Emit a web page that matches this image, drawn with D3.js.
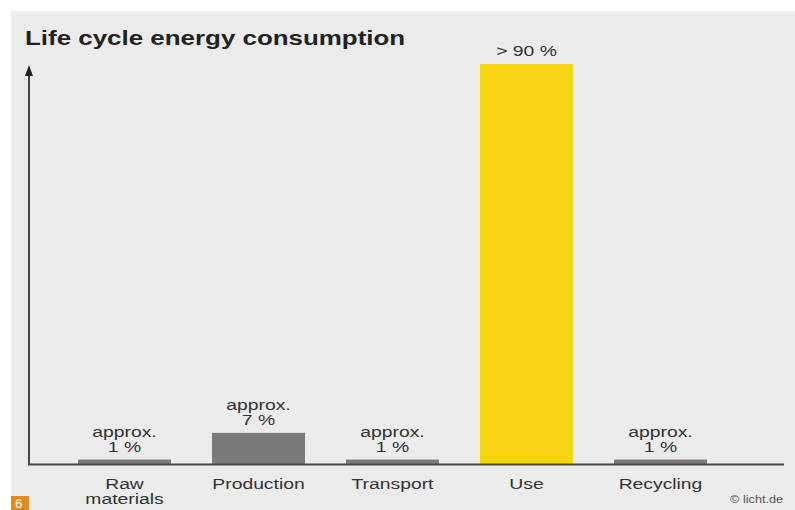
<!DOCTYPE html>
<html>
<head>
<meta charset="utf-8">
<script src="https://cdn.jsdelivr.net/npm/d3@7"></script>
<style>
  html, body { margin: 0; padding: 0; background: #ffffff; }
  svg { display: block; font-family: "Liberation Sans", Arial, Helvetica, sans-serif; }
</style>
</head>
<body>
<script>
// Life-cycle stages and their share of energy consumption (%)
const stages = ["Raw materials", "Production", "Transport", "Use", "Recycling"];
const stageLines = [["Raw", "materials"], ["Production"], ["Transport"], ["Use"], ["Recycling"]];
const shares = [1, 7, 1, 90, 1];
const valueLabels = [["approx.", "1 %"], ["approx.", "7 %"], ["approx.", "1 %"], ["> 90 %"], ["approx.", "1 %"]];
const barColors = ["#7a7a7a", "#7a7a7a", "#7a7a7a", "#f5d412", "#7a7a7a"];

const W = 795, H = 510;
const svg = d3.select("body").append("svg").attr("width", W).attr("height", H);

// wide-set text: placed at (x, y) and stretched horizontally by sx
function label(x, y, t, size, sx, opts = {}) {
  return svg.append("text")
    .attr("transform", `translate(${x},${y}) scale(${sx},1)`)
    .attr("text-anchor", opts.anchor || "middle")
    .attr("font-size", size)
    .attr("font-weight", opts.weight || "normal")
    .attr("fill", opts.fill || "#333")
    .text(t);
}

// panel background
svg.append("rect").attr("x", 11).attr("y", 11).attr("width", W - 11).attr("height", H - 11)
  .attr("fill", "#ebebeb");

const baseY = 464;
const x = d3.scaleBand().domain(stages).range([57.5, 727.5])
  .paddingInner(0.306).paddingOuter(0.153);
const y = d3.scaleLinear().domain([0, 90]).range([baseY, 64]);

// title
label(25, 45, "Life cycle energy consumption", 21, 1.235, { anchor: "start", weight: "bold", fill: "#222" });

// bars
svg.selectAll("rect.bar").data(stages).join("rect")
  .attr("class", "bar")
  .attr("x", d => x(d))
  .attr("width", x.bandwidth())
  .attr("y", (d, i) => y(shares[i]))
  .attr("height", (d, i) => baseY - y(shares[i]))
  .attr("fill", (d, i) => barColors[i]);

// value labels above bars
stages.forEach((d, i) => {
  const lines = valueLabels[i];
  const cx = x(d) + x.bandwidth() / 2;
  const top = y(shares[i]) - 8;
  lines.forEach((t, j) => {
    label(cx, top - (lines.length - 1 - j) * 15, t, 14, 1.38);
  });
});

// axes: vertical arrow and baseline
svg.append("line").attr("x1", 29).attr("x2", 29).attr("y1", baseY + 1).attr("y2", 74)
  .attr("stroke", "#444").attr("stroke-width", 2);
svg.append("path").attr("d", "M29,65 L25,76 L33,76 Z").attr("fill", "#222");
svg.append("line").attr("x1", 28).attr("x2", 784).attr("y1", baseY + 0.5).attr("y2", baseY + 0.5)
  .attr("stroke", "#4a4a4a").attr("stroke-width", 2);

// category labels
stages.forEach((d, i) => {
  const cx = x(d) + x.bandwidth() / 2;
  stageLines[i].forEach((t, j) => {
    label(cx, 489 + j * 15, t, 14, 1.38);
  });
});

// source note
label(783, 503, "© licht.de", 11, 1.15, { anchor: "end", fill: "#555" });

// page number tag
svg.append("rect").attr("x", 11).attr("y", 496).attr("width", 18).attr("height", 14)
  .attr("fill", "#e08a1c");
label(15, 508, "6", 12, 1.1, { anchor: "start", fill: "#ffffff" });
</script>
</body>
</html>
